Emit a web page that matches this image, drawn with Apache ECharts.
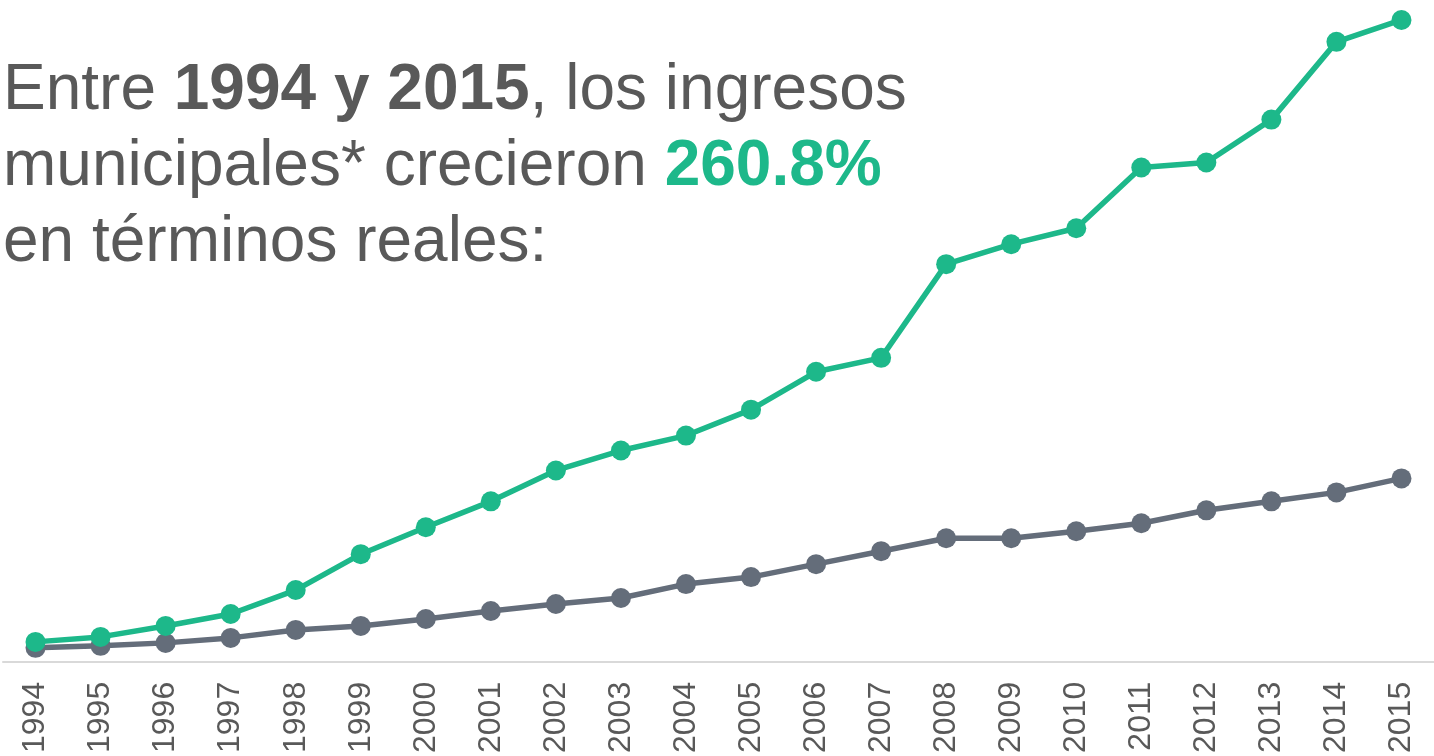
<!DOCTYPE html>
<html>
<head>
<meta charset="utf-8">
<script src="https://cdn.jsdelivr.net/npm/echarts@6/dist/echarts.min.js"></script>
<style>
  html, body { margin: 0; padding: 0; background: #fff; }
  #chart { width: 1434px; height: 756px; }
</style>
</head>
<body>
<div id="chart"></div>
<script>
// años
const years = ['1994', '1995', '1996', '1997', '1998', '1999', '2000', '2001', '2002', '2003', '2004',
  '2005', '2006', '2007', '2008', '2009', '2010', '2011', '2012', '2013', '2014', '2015']

// ingresos municipales (escala relativa)
const ingresos = [20, 25, 36, 48, 72, 108, 135, 161, 192, 212, 227,
  253, 291, 305, 399, 419, 435, 496, 501, 544, 622, 644]

// serie de referencia (gris)
const referencia = [14, 16, 19, 24, 32, 36, 43, 51, 58, 64, 78,
  85, 98, 111, 124, 124, 131, 139, 152, 161, 170, 184]

const green = '#1db88a'
const gray = '#646d7a'

const myChart = echarts.init(document.getElementById('chart'))

const option = {
  backgroundColor: '#fff',
  animation: false,
  title: {
    left: 0,
    top: 48,
    padding: [5, 5, 5, 3],
    text: '{n|Entre }{b|1994 y 2015}{n|, los ingresos}\n{n|municipales* crecieron }{g|260.8%}\n{n|en términos reales:}',
    textStyle: {
      fontWeight: 'normal',
      rich: {
        n: { fontFamily: 'Liberation Sans', fontSize: 64, color: '#595959', fontWeight: 'normal', lineHeight: 76 },
        b: { fontFamily: 'Liberation Sans', fontSize: 64, color: '#595959', fontWeight: 'bold', lineHeight: 76 },
        g: { fontFamily: 'Liberation Sans', fontSize: 64, color: green, fontWeight: 'bold', lineHeight: 76 },
      },
    },
  },
  grid: {
    left: 3,
    right: 0,
    top: 4,
    bottom: 92,
  },
  xAxis: {
    type: 'category',
    data: years,
    boundaryGap: true,
    axisLine: { lineStyle: { color: '#d9d9d9', width: 2 } },
    axisTick: { show: false },
    axisLabel: {
      rotate: 90,
      margin: 20,
      color: '#595959',
      fontFamily: 'Liberation Sans',
      fontSize: 32,
      interval: 0,
    },
  },
  yAxis: {
    type: 'value',
    min: 0,
    max: 660,
    show: false,
    splitLine: { show: false },
  },
  series: [
    {
      type: 'line',
      data: referencia,
      symbol: 'circle',
      symbolSize: 20,
      lineStyle: { color: gray, width: 5.5 },
      itemStyle: { color: gray },
    },
    {
      type: 'line',
      data: ingresos,
      symbol: 'circle',
      symbolSize: 20,
      lineStyle: { color: green, width: 5.5 },
      itemStyle: { color: green },
    },
  ],
}

option && myChart.setOption(option)
</script>
</body>
</html>
